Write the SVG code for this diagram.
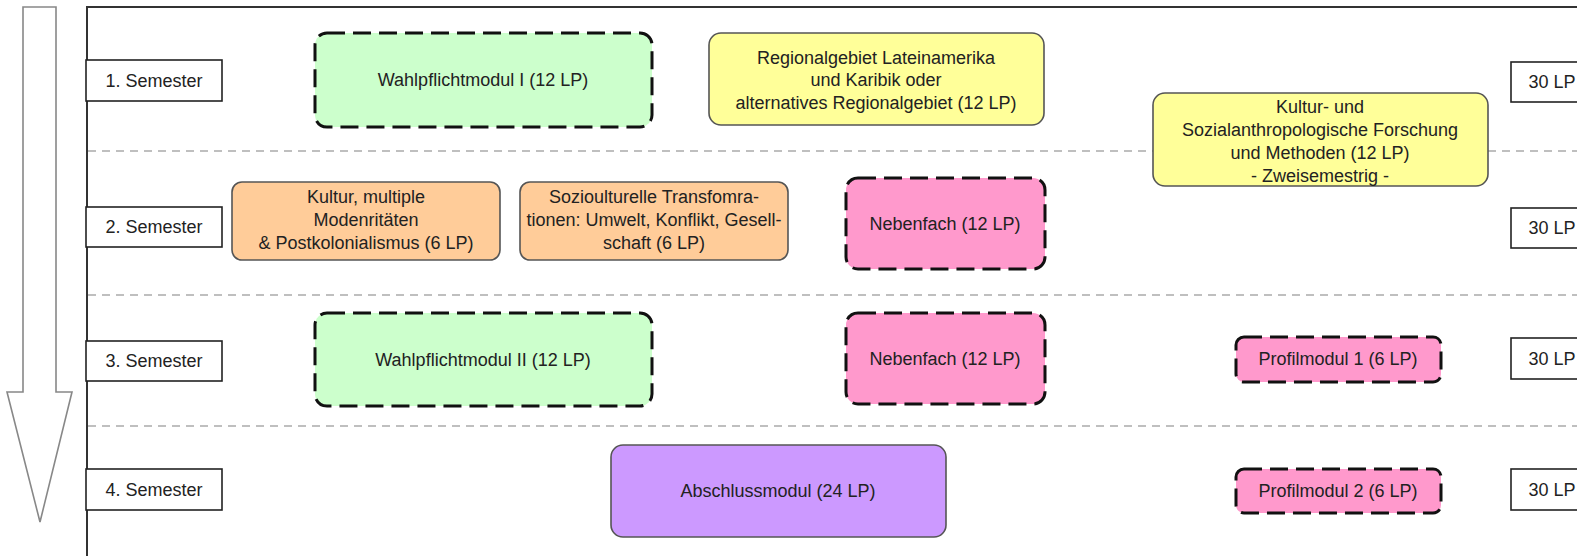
<svg xmlns="http://www.w3.org/2000/svg" width="1577" height="556" viewBox="0 0 1577 556">
<style>
text{font-family:"Liberation Sans",Arial,sans-serif;font-size:18px;fill:#222;text-anchor:middle}
.lbl{fill:#fff;stroke:#222;stroke-width:1.6}
.solid{stroke:#555;stroke-width:1.6}
.dash{stroke:#111;stroke-width:3;stroke-dasharray:18 8}
.sep{stroke:#aaa;stroke-width:1.5;stroke-dasharray:8 6;fill:none}
.green{fill:#ccffcc}.yellow{fill:#ffff99}.orange{fill:#ffcc99}.pink{fill:#ff99cc}.purple{fill:#cc99ff}
</style>
<rect width="1577" height="556" fill="#fff"/>
<g id="arrow"><polygon points="23,7 56,7 56,392 72,392 40,522 7,392 23,392" fill="#fff" stroke="#888" stroke-width="1.6"/></g>
<g id="frame"><path d="M87,556 L87,7 L1577,7" fill="none" stroke="#333" stroke-width="2"/></g>
<g id="connectors">
<line class="sep" x1="88" y1="151" x2="1577" y2="151"/>
<line class="sep" x1="88" y1="295" x2="1577" y2="295"/>
<line class="sep" x1="88" y1="426" x2="1577" y2="426"/>
</g>
<g id="sem1"><rect class="lbl" x="86" y="60" width="136" height="41"/><text x="154" y="87">1. Semester</text></g>
<g id="sem2"><rect class="lbl" x="86" y="207" width="136" height="40"/><text x="154" y="233">2. Semester</text></g>
<g id="sem3"><rect class="lbl" x="86" y="341" width="136" height="40"/><text x="154" y="367">3. Semester</text></g>
<g id="sem4"><rect class="lbl" x="86" y="469" width="136" height="41"/><text x="154" y="496">4. Semester</text></g>
<g id="lp1"><rect class="lbl" x="1511" y="62" width="100" height="40"/><text x="1552" y="88">30 LP</text></g>
<g id="lp2"><rect class="lbl" x="1511" y="208" width="100" height="40"/><text x="1552" y="234">30 LP</text></g>
<g id="lp3"><rect class="lbl" x="1511" y="338" width="100" height="41"/><text x="1552" y="365">30 LP</text></g>
<g id="lp4"><rect class="lbl" x="1511" y="469" width="100" height="41"/><text x="1552" y="496">30 LP</text></g>
<g id="wpm1"><rect class="green dash" x="315" y="33" width="337" height="94" rx="12"/><text x="483" y="86">Wahlpflichtmodul I (12 LP)</text></g>
<g id="regional"><rect class="yellow solid" x="709" y="33" width="335" height="92" rx="12"/><text x="876" y="64">Regionalgebiet Lateinamerika</text><text x="876" y="86">und Karibik oder</text><text x="876" y="109">alternatives Regionalgebiet (12 LP)</text></g>
<g id="forschung"><rect class="yellow solid" x="1153" y="93" width="335" height="93" rx="12"/><text x="1320" y="113">Kultur- und</text><text x="1320" y="136">Sozialanthropologische Forschung</text><text x="1320" y="159">und Methoden (12 LP)</text><text x="1320" y="182">- Zweisemestrig -</text></g>
<g id="kultur"><rect class="orange solid" x="232" y="182" width="268" height="78" rx="10"/><text x="366" y="203">Kultur, multiple</text><text x="366" y="226">Modenritäten</text><text x="366" y="249">&amp; Postkolonialismus (6 LP)</text></g>
<g id="sozio"><rect class="orange solid" x="520" y="182" width="268" height="78" rx="10"/><text x="654" y="203">Sozioulturelle Transfomra-</text><text x="654" y="226">tionen: Umwelt, Konflikt, Gesell-</text><text x="654" y="249">schaft (6 LP)</text></g>
<g id="neben1"><rect class="pink dash" x="846" y="178" width="199" height="91" rx="12"/><text x="945" y="230">Nebenfach (12 LP)</text></g>
<g id="wpm2"><rect class="green dash" x="315" y="313" width="337" height="93" rx="12"/><text x="483" y="366">Wahlpflichtmodul II (12 LP)</text></g>
<g id="neben2"><rect class="pink dash" x="846" y="313" width="199" height="91" rx="12"/><text x="945" y="365">Nebenfach (12 LP)</text></g>
<g id="profil1"><rect class="pink dash" x="1236" y="337" width="205" height="45" rx="8"/><text x="1338" y="365">Profilmodul 1 (6 LP)</text></g>
<g id="abschluss"><rect class="purple solid" x="611" y="445" width="335" height="92" rx="12"/><text x="778" y="497">Abschlussmodul (24 LP)</text></g>
<g id="profil2"><rect class="pink dash" x="1236" y="469" width="205" height="44" rx="8"/><text x="1338" y="497">Profilmodul 2 (6 LP)</text></g>
</svg>
